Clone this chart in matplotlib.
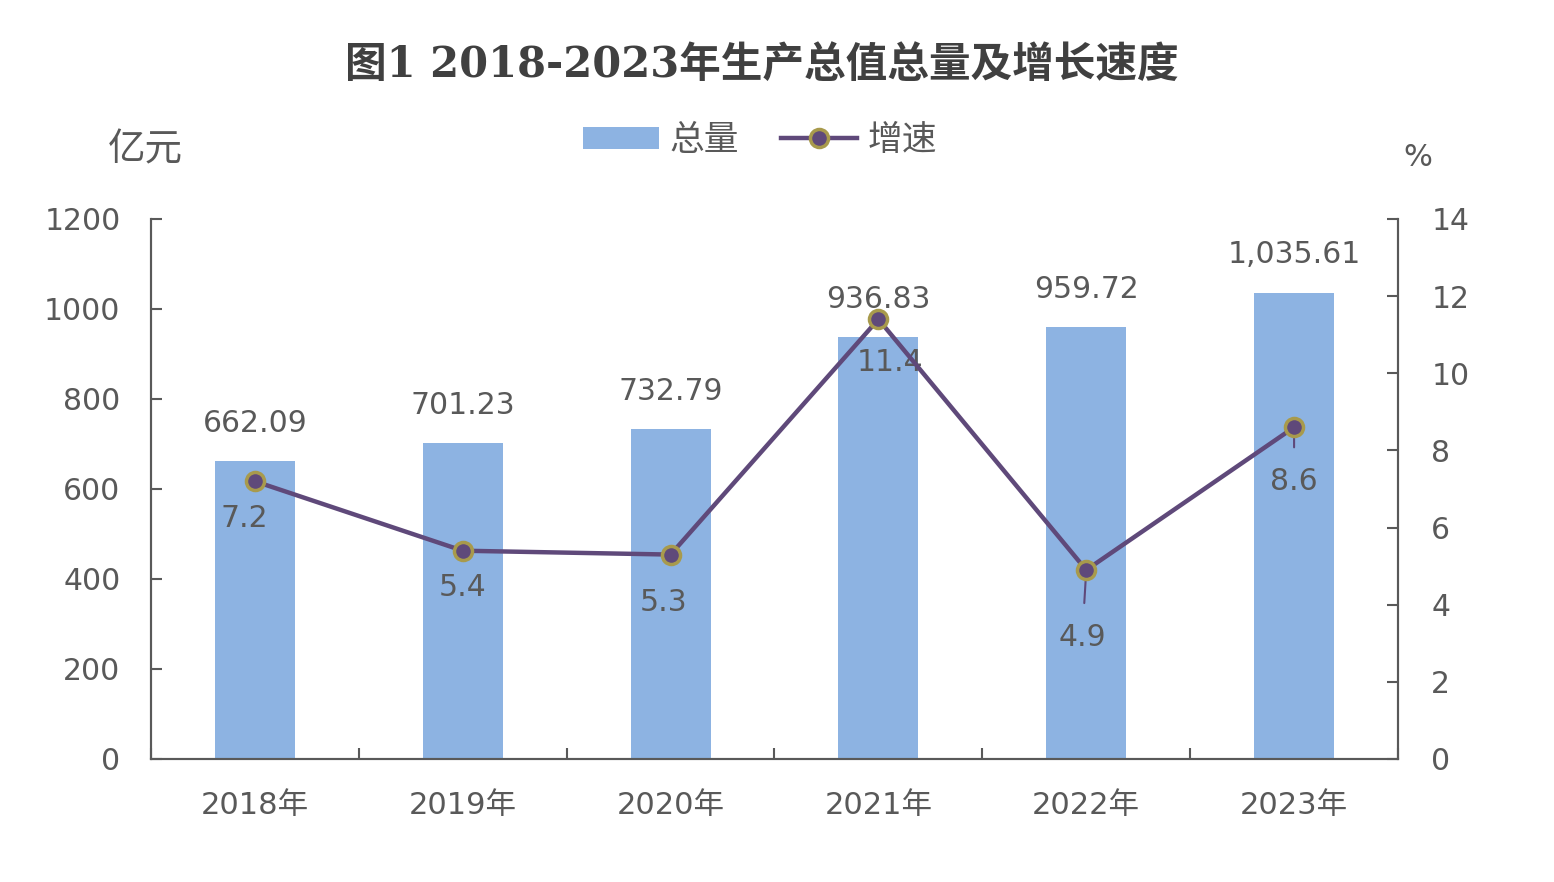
import matplotlib
matplotlib.use("Agg")
import matplotlib.pyplot as plt
from matplotlib.patches import Patch
from matplotlib.lines import Line2D
import numpy as np

plt.rcParams['font.family'] = ['DejaVu Sans', 'Noto Sans CJK SC']

years = ["2018年", "2019年", "2020年", "2021年", "2022年", "2023年"]
totals = [662.09, 701.23, 732.79, 936.83, 959.72, 1035.61]
growth = [7.2, 5.4, 5.3, 11.4, 4.9, 8.6]
left_ticks = [0, 200, 400, 600, 800, 1000, 1200]
right_ticks = [0, 2, 4, 6, 8, 10, 12, 14]

# label offsets (pixels) for growth labels
g_off = [(-11, -37), (0, -37), (-7, -48), (12, -43), (-4, -67), (0, -54)]
g_leader = [False, False, False, False, True, True]

BAR = "#8DB3E2"
LINE = "#5F497A"
EDGE = "#A89A4C"
TXT = "#595959"
SPINE = "#595959"
FS = 21.5

fig = plt.figure(figsize=(15.54, 8.82), dpi=100)
ax = fig.add_axes([151/1554, 1-759/882, (1398-151)/1554, (759-219)/882])
x = np.arange(len(years))
ax.bar(x, totals, width=0.385, color=BAR, zorder=2)
ax.set_xlim(-0.5, len(years)-0.5)
ax.set_ylim(0, 1200)
ax.set_yticks(left_ticks)
ax.tick_params(axis='y', direction='in', length=8, width=1.5, color=SPINE,
               labelsize=FS, labelcolor=TXT, pad=22)
ax.set_xticks(np.arange(-0.5, len(years), 1.0))
ax.set_xticklabels([])
ax.set_xticks(x, minor=True)
ax.set_xticklabels(years, minor=True)
ax.tick_params(axis='x', which='major', direction='in', length=8, width=1.5, color=SPINE)
ax.tick_params(axis='x', which='minor', length=0, labelsize=22, labelcolor=TXT, pad=23)
for s in ['left', 'bottom', 'right']:
    ax.spines[s].set_color(SPINE)
    ax.spines[s].set_linewidth(1.5)
ax.spines['top'].set_visible(False)

for xi, v in zip(x, totals):
    ax.annotate(f"{v:,.2f}", xy=(xi, v), xytext=(0, 38), textcoords='offset pixels',
                ha='center', va='center', fontsize=FS, color=TXT, zorder=5)

ax2 = ax.twinx()
ax2.set_ylim(0, 14)
ax2.set_yticks(right_ticks)
ax2.tick_params(axis='y', direction='in', length=8, width=1.5, color=SPINE,
                labelsize=FS, labelcolor=TXT, pad=24)
for s in ['left', 'bottom', 'right']:
    ax2.spines[s].set_color(SPINE)
    ax2.spines[s].set_linewidth(1.5)
ax2.spines['top'].set_visible(False)
ax2.plot(x, growth, color=LINE, lw=3.2, marker='o', markersize=13,
         markerfacecolor=LINE, markeredgecolor=EDGE, markeredgewidth=2.5, zorder=4)

for xi, v, (dx, dy), ld in zip(x, growth, g_off, g_leader):
    if ld:
        ax2.annotate(f"{v}", xy=(xi, v), xytext=(dx, dy), textcoords='offset pixels',
                     ha='center', va='center', fontsize=FS, color=TXT,
                     arrowprops=dict(arrowstyle='-', color=LINE, lw=1.5,
                                     shrinkA=12, shrinkB=8))
    else:
        ax2.annotate(f"{v}", xy=(xi, v), xytext=(dx, dy), textcoords='offset pixels',
                     ha='center', va='center', fontsize=FS, color=TXT)

fig.text(762/1554, 1-65/882, "图1 2018-2023年生产总值总量及增长速度", ha='center', va='center',
         fontsize=30, color="#404040", fontweight='bold',
         family=['DejaVu Serif', 'Noto Sans CJK SC'])
fig.text(145/1554, 1-150/882, "亿元", ha='center', va='center', fontsize=27, color=TXT)
fig.text(1418/1554, 1-157/882, "%", ha='center', va='center', fontsize=22, color=TXT)

handles = [Patch(facecolor=BAR, edgecolor='none'),
           Line2D([0], [0], color=LINE, lw=3.2, marker='o', markersize=13,
                  markerfacecolor=LINE, markeredgecolor=EDGE, markeredgewidth=2.5)]
fig.legend(handles, ["总量", "增速"], loc='center', bbox_to_anchor=(760/1554, 1-140/882),
           ncol=2, frameon=False, fontsize=25, labelcolor=TXT, handlelength=2.2,
           handleheight=0.6, columnspacing=1.2, handletextpad=0.3)

fig.savefig("out.png", dpi=100)
